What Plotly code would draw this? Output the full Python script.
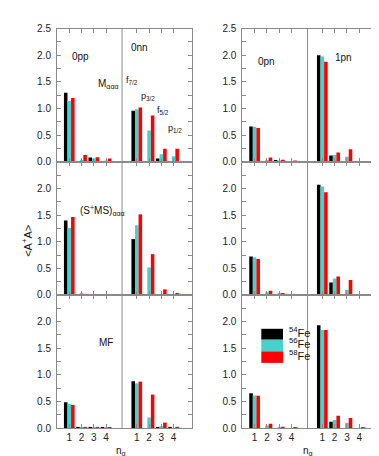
import plotly.graph_objects as go

# ---------------- data ----------------
tick_labels = ["1", "2", "3", "4"]
x_left = [1, 2, 3, 4]          # first group (0pp / 0pn)
x_right = [6.5, 7.5, 8.5, 9.5]  # second group (0nn / 1pn)
isotopes = ["54", "56", "58"]

# Left column (0pp | 0nn), rows: M_aaa, (S+MS)_aaa, MF
m_fe54 = [1.30, 0.0, 0.085, 0.0, 0.96, 0.0, 0.067, 0.0]
m_fe56 = [1.145, 0.036, 0.067, 0.02, 0.99, 0.59, 0.145, 0.11]
m_fe58 = [1.20, 0.13, 0.09, 0.067, 1.02, 0.87, 0.25, 0.25]

sms_fe54 = [1.40, 0.0, 0.0, 0.0, 1.05, 0.0, 0.0, 0.0]
sms_fe56 = [1.26, 0.02, 0.01, 0.005, 1.31, 0.515, 0.005, 0.0]
sms_fe58 = [1.466, 0.0, 0.008, 0.005, 1.515, 0.767, 0.104, 0.03]

mf_fe54 = [0.485, 0.005, 0.005, 0.005, 0.88, 0.0, 0.005, 0.005]
mf_fe56 = [0.455, 0.005, 0.005, 0.005, 0.84, 0.20, 0.036, 0.0]
mf_fe58 = [0.436, 0.005, 0.005, 0.005, 0.873, 0.63, 0.103, 0.024]

# Right column (0pn | 1pn)
pn_m_fe54 = [0.667, 0.0, 0.036, 0.0, 2.00, 0.12, 0.0, 0.0]
pn_m_fe56 = [0.66, 0.036, 0.03, 0.0, 1.976, 0.133, 0.10, 0.0]
pn_m_fe58 = [0.636, 0.085, 0.04, 0.025, 1.88, 0.176, 0.24, 0.005]

pn_sms_fe54 = [0.724, 0.0, 0.0, 0.0, 2.07, 0.233, 0.0, 0.0]
pn_sms_fe56 = [0.706, 0.05, 0.02, 0.0, 2.04, 0.307, 0.092, 0.005]
pn_sms_fe58 = [0.675, 0.08, 0.025, 0.01, 1.93, 0.344, 0.28, 0.005]

pn_mf_fe54 = [0.655, 0.0, 0.0, 0.0, 1.93, 0.12, 0.0, 0.0]
pn_mf_fe56 = [0.61, 0.05, 0.005, 0.0, 1.84, 0.15, 0.10, 0.0]
pn_mf_fe58 = [0.606, 0.08, 0.024, 0.005, 1.84, 0.23, 0.188, 0.005]

# ---------------- style ----------------
W, H = 379, 456
colors = ["#000000", "#48D1CC", "#FF0000"]
FONT = "Liberation Sans, Arial, sans-serif"
GREY = "#8a8a8a"


def px(x):
    return x / W


def py(y):
    return 1 - y / H


panels = [  # (row, col, series)
    (0, 0, [m_fe54, m_fe56, m_fe58]),
    (0, 1, [pn_m_fe54, pn_m_fe56, pn_m_fe58]),
    (1, 0, [sms_fe54, sms_fe56, sms_fe58]),
    (1, 1, [pn_sms_fe54, pn_sms_fe56, pn_sms_fe58]),
    (2, 0, [mf_fe54, mf_fe56, mf_fe58]),
    (2, 1, [pn_mf_fe54, pn_mf_fe56, pn_mf_fe58]),
]

col_dom = [(px(49), px(184)), (px(234.3), px(369.7))]
row_dom = [(py(152), py(15)), (py(288.5), py(152)), (py(425.3), py(288.5))]

fig = go.Figure()
layout = {}
shapes = []
for i, (r, c, series) in enumerate(panels):
    k = i + 1
    sfx = "" if k == 1 else str(k)
    for s, (vals, col, iso) in enumerate(zip(series, colors, isotopes)):
        fig.add_trace(go.Bar(
            x=x_left + x_right, y=vals, marker=dict(color=col, line=dict(width=0)),
            xaxis="x" + sfx, yaxis="y" + sfx, offsetgroup=str(s),
            name=iso + "Fe", showlegend=False))
    layout["xaxis" + sfx] = dict(
        domain=list(col_dom[c]), range=[0, 11], anchor="y" + sfx,
        tickvals=x_left + x_right, ticktext=tick_labels * 2,
        ticks="inside", ticklen=4, tickcolor=GREY,
        showline=True, linecolor=GREY, linewidth=1, mirror="ticks",
        showgrid=False, zeroline=False, showticklabels=(r == 2),
        tickfont=dict(family=FONT, size=10, color="#222"))
    yt = [0, 0.5, 1.0, 1.5, 2.0, 2.5] if r == 0 else [0, 0.5, 1.0, 1.5, 2.0]
    layout["yaxis" + sfx] = dict(
        domain=list(row_dom[r]), range=[0, 2.5], anchor="x" + sfx,
        tickvals=yt, tickformat=".1f",
        ticks="inside", ticklen=4, tickcolor=GREY,
        minor=dict(dtick=0.25, tick0=0, ticks="inside", ticklen=4, tickcolor=GREY),
        showline=True, linecolor=GREY, linewidth=1, mirror="ticks",
        showgrid=False, zeroline=False, ticklabelstandoff=3,
        tickfont=dict(family=FONT, size=10, color="#222"))
    shapes.append(dict(type="line", xref="x" + sfx, yref="y" + sfx + " domain",
                       x0=5.3, x1=5.3, y0=0, y1=1, line=dict(color=GREY, width=1)))

annos = []


def txt(x, y, s, size=10, xanchor="left"):
    annos.append(dict(x=px(x), y=py(y), xref="paper", yref="paper", text=s,
                      showarrow=False, xanchor=xanchor, yanchor="middle",
                      font=dict(family=FONT, size=size, color="#111")))


txt(62, 44, "0pp")
txt(88, 72, "M<sub>ααα</sub>")
txt(121, 34, "0nn")
txt(116, 68, "f<sub>7/2</sub>", 9)
txt(131, 85, "p<sub>3/2</sub>", 9)
txt(147, 99, "f<sub>5/2</sub>", 9)
txt(158, 118, "p<sub>1/2</sub>", 9)
txt(70, 202, "(S<sup>+</sup>MS)<sub>ααα</sub>")
txt(89, 337, "MF")
txt(248, 49, "0pn")
txt(325, 45, "1pn")
txt(113, 449, "n<sub>α</sub>", 10, "center")
txt(300, 449, "n<sub>α</sub>", 10, "center")
annos.append(dict(x=px(10), y=py(233), xref="paper", yref="paper",
                  text="<A<sup>+</sup>A>", textangle=-90, showarrow=False,
                  font=dict(family=FONT, size=11, color="#111")))

# legend (drawn manually with large swatches)
leg_rows = [(323.3, 334.5), (334.5, 346.5), (346.5, 358.3)]
for (y0, y1), col, iso in zip(leg_rows, colors, isotopes):
    shapes.append(dict(type="rect", xref="paper", yref="paper",
                       x0=px(253.3), x1=px(275), y0=py(y1), y1=py(y0),
                       fillcolor=col, line=dict(width=0)))
    txt(279, (y0 + y1) / 2 - 2.5, "<sup>" + iso + "</sup>Fe", 11)

fig.update_layout(
    width=W, height=H, margin=dict(l=0, r=0, t=0, b=0),
    paper_bgcolor="white", plot_bgcolor="white",
    barmode="group", bargap=0.13, bargroupgap=0,
    shapes=shapes, annotations=annos, showlegend=False,
    font=dict(family=FONT), **layout)

fig.write_html("out.html")
